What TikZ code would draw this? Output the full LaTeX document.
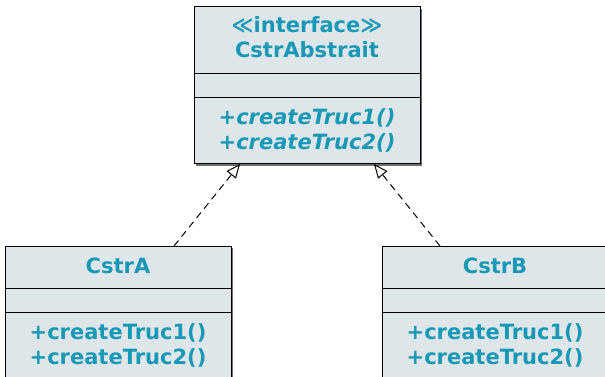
\documentclass[tikz,border=0pt]{standalone}
\usepackage{fontspec}
\setmainfont{DejaVu Sans}
\usetikzlibrary{arrows.meta,shadows}
\definecolor{boxfill}{RGB}{223,230,233}
\definecolor{boxtext}{RGB}{22,152,182}
\definecolor{boxshade}{RGB}{110,110,110}
\tikzset{
  classbox/.style={rectangle, draw=black, fill=boxfill, line width=0.75pt,
    inner sep=0pt, outer sep=0pt, anchor=north west, minimum width=169.5pt,
    drop shadow={shadow xshift=1.2pt, shadow yshift=-1.2pt, fill=boxshade, opacity=1}},
  divider/.style={draw=black, line width=0.75pt},
  member/.style={text=boxtext, font=\fontsize{15.75}{18.75}\selectfont\bfseries,
    anchor=base, inner sep=0pt},
  realizes/.style={draw=black, line width=0.75pt, dash pattern=on 5.25pt off 3.75pt,
    -{Triangle[open, length=10.5pt, width=9pt, fill=white]}}
}
\begin{document}
\begin{tikzpicture}[x=0.75pt, y=-0.75pt]
  \useasboundingbox (0,0) rectangle (605,377);
  \clip (0,0) rectangle (605,377);

  % interface
  \node[classbox, minimum height=117.75pt] (top) at (194,7) {};
  \draw[divider] (194,74) -- (420,74);
  \draw[divider] (194,98) -- (420,98);
  \node[member] (topstereo) at (307,33) {≪interface≫};
  \node[member] (topname) at (307,58) {CstrAbstrait};
  \node[member] (topop1) at (307,125) {\itshape +createTruc1()};
  \node[member] (topop2) at (307,149.5) {\itshape +createTruc2()};

  % CstrA
  \node[classbox, minimum height=108pt] (cA) at (5,246) {};
  \draw[divider] (5,288) -- (231,288);
  \draw[divider] (5,312) -- (231,312);
  \node[member] (cAname) at (118,273) {CstrA};
  \node[member] (cAop1) at (118,339) {+createTruc1()};
  \node[member] (cAop2) at (118,364) {+createTruc2()};

  % CstrB
  \node[classbox, minimum height=108pt] (cB) at (382,246) {};
  \draw[divider] (382,288) -- (608,288);
  \draw[divider] (382,312) -- (608,312);
  \node[member] (cBname) at (495,273) {CstrB};
  \node[member] (cBop1) at (495,339) {+createTruc1()};
  \node[member] (cBop2) at (495,364) {+createTruc2()};

  % realizations
  \draw[realizes] ([xshift=126.75pt]cA.north west) -- ([xshift=34.5pt]top.south west);
  \draw[realizes] ([xshift=43.5pt]cB.north west) -- ([xshift=135pt]top.south west);
\end{tikzpicture}
\end{document}
